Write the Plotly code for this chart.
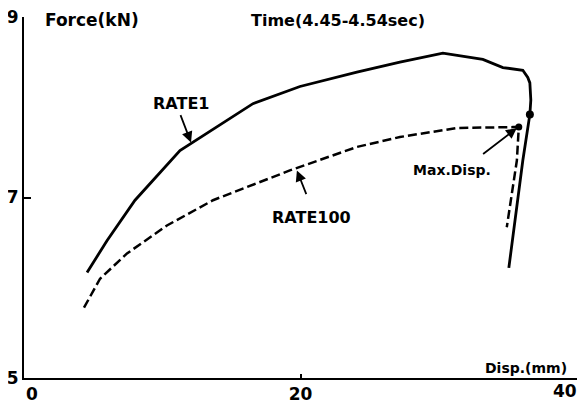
import plotly.graph_objects as go

# RATE1 (solid) force-displacement curve
rate1_disp = [4.56, 6.0, 8.03, 11.28, 16.56, 19.96, 24.08, 27.19, 30.3, 33.19,
              34.64, 36.08, 36.44, 36.59, 36.66, 36.59, 36.08, 35.07]
rate1_force = [6.17, 6.52, 6.97, 7.52, 8.04, 8.23, 8.39, 8.50, 8.60, 8.53,
               8.44, 8.41, 8.33, 8.27, 8.08, 7.92, 7.41, 6.22]

# RATE100 (dashed) force-displacement curve
rate100_disp = [4.34, 5.5, 7.45, 10.34, 13.67, 19.23, 24.08, 27.19, 31.31, 33.69,
                35.36, 35.79, 35.65, 34.92]
rate100_force = [5.78, 6.10, 6.38, 6.69, 6.97, 7.30, 7.56, 7.67, 7.77, 7.78,
                 7.78, 7.78, 7.41, 6.67]

# Max displacement points
rate1_max = (36.59, 7.92)
rate100_max = (35.79, 7.78)

x_ticks = [0, 20, 40]
x_ticktext = ["", "20", ""]
y_ticks = [5, 7, 9]

FONT = "DejaVu Sans"

fig = go.Figure()
fig.add_trace(go.Scatter(x=rate1_disp, y=rate1_force, mode="lines",
                         line=dict(color="black", width=2.8), name="RATE1"))
fig.add_trace(go.Scatter(x=rate100_disp, y=rate100_force, mode="lines",
                         line=dict(color="black", width=2.5, dash="9px,4px"), name="RATE100"))
fig.add_trace(go.Scatter(x=[rate1_max[0]], y=[rate1_max[1]], mode="markers",
                         marker=dict(color="black", size=8)))
fig.add_trace(go.Scatter(x=[rate100_max[0]], y=[rate100_max[1]], mode="markers",
                         marker=dict(color="black", size=7)))

def txt(x, y, s, size=16, xanchor="center", xref="x", yref="y", xshift=0):
    fig.add_annotation(x=x, y=y, text=s, showarrow=False, xanchor=xanchor, yanchor="middle",
                       xref=xref, yref=yref, xshift=xshift,
                       font=dict(family=FONT, size=size, color="black", weight="bold"))

def arrow(x, y, ax, ay):
    fig.add_annotation(x=x, y=y, ax=ax, ay=ay, xref="x", yref="y", axref="x", ayref="y",
                       text="", showarrow=True, arrowhead=2, arrowsize=1.2, arrowwidth=1.8,
                       arrowcolor="black", standoff=0)

txt(1.37, 8.97, "Force(kN)", size=17, xanchor="left")
txt(22.7, 8.96, "Time(4.45-4.54sec)", size=16)
txt(11.35, 8.04, "RATE1", size=16)
txt(20.82, 6.78, "RATE100", size=16)
txt(30.95, 7.31, "Max.Disp.", size=14)
txt(36.3, 5.11, "Disp.(mm)", size=14)
txt(0.6, -0.044, "0", size=17, yref="paper")
txt(40, -0.037, "40", size=17, yref="paper", xanchor="right", xshift=2)

arrow(12.08, 7.61, 11.28, 7.93)
arrow(19.74, 7.30, 20.46, 7.02)
arrow(35.65, 7.77, 33.1, 7.47)

# page body adds an 8px margin, so the figure is sized/offset to compensate
fig.update_layout(
    width=579, height=395,
    margin=dict(l=16, r=10, t=9, b=25),
    paper_bgcolor="white", plot_bgcolor="white",
    showlegend=False,
    font=dict(family=FONT, size=17, color="black", weight="bold"),
)
fig.update_xaxes(range=[0, 40], tickvals=x_ticks, ticktext=x_ticktext,
                 showline=True, linewidth=2, linecolor="black", mirror=False,
                 ticks="inside", ticklen=4, tickwidth=2, tickcolor="black",
                 showgrid=False, zeroline=False, automargin=False,
                 ticklabelstandoff=0, ticklabeloverflow="allow",
                 tickfont=dict(family=FONT, size=17, color="black", weight="bold"))
fig.update_yaxes(range=[5, 9], tickvals=y_ticks,
                 showline=True, linewidth=2, linecolor="black", mirror=False,
                 ticks="inside", ticklen=7, tickwidth=2, tickcolor="black",
                 showgrid=False, zeroline=False, automargin=False,
                 ticklabeloverflow="allow",
                 tickfont=dict(family=FONT, size=17, color="black", weight="bold"))

fig.write_html("out.html")
